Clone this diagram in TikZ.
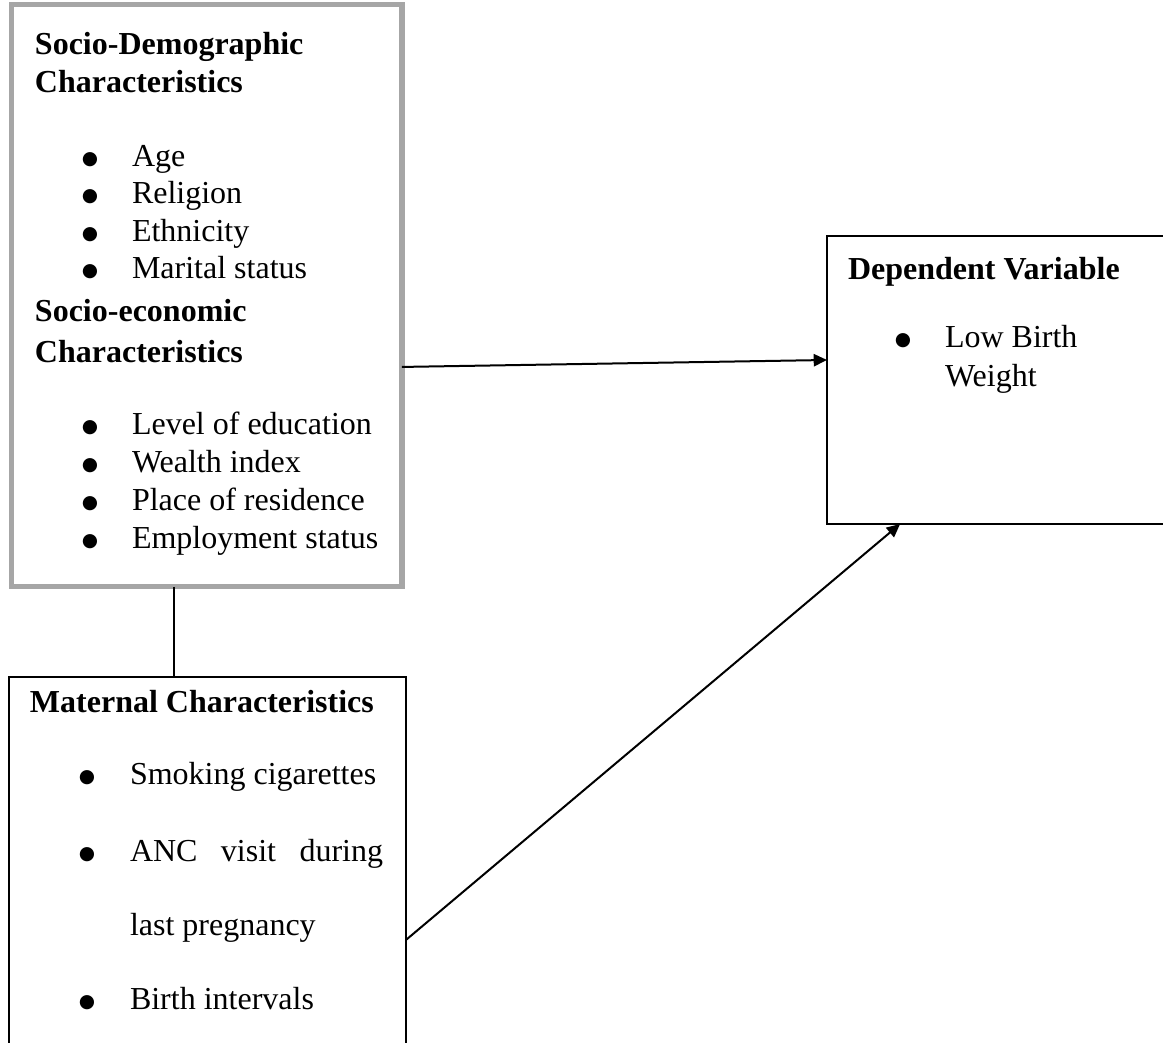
\documentclass[tikz,border=0pt]{standalone}
\usepackage{fontspec}
\setmainfont{Liberation Serif}
\newfontfamily\symfnt{DejaVu Sans}
\usetikzlibrary{arrows.meta}
\begin{document}
\begin{tikzpicture}[x=0.375pt,y=-0.375pt,
  txt/.style={anchor=base west,inner sep=0pt,outer sep=0pt,font=\fontsize{12}{14}\selectfont},
  hd/.style={txt,font=\fontsize{12}{14}\selectfont\bfseries},
  bul/.style={anchor=base,inner sep=0pt,outer sep=0pt,font=\fontsize{7}{8}\symfnt},
  frame/.style={draw,rectangle,inner sep=0pt,outer sep=0pt},
  conn/.style={line width=0.75pt,black},
  arr/.style={conn,-{Triangle[length=5pt,width=4.6pt]}}]
\newcommand{\bdot}{\raisebox{0.9pt}{●}}
\useasboundingbox (0,0) rectangle (1163,1043);
\clip (0,0) rectangle (1163,1043);
% boxes
\node[frame,draw=gray!70,line width=1.9pt,minimum width=146.6pt,minimum height=218.4pt] (b1) at (206.5,295.75) {};
\node[frame,line width=0.75pt,minimum width=148.9pt,minimum height=162.4pt] (b2) at (207.5,893.5) {};
\node[frame,line width=0.75pt,minimum width=143.6pt,minimum height=108pt] (b3) at (1018.5,380) {};
% box 1 text
\node[hd] (t1) at (35,55) {Socio-Demographic};
\node[hd] (t2) at (35,93) {Characteristics};
\node[bul] (u1) at (90,167) {\bdot};
\node[txt] (i1) at (132,167) {Age};
\node[bul] (u2) at (90,204) {\bdot};
\node[txt] (i2) at (132,204) {Religion};
\node[bul] (u3) at (90,242) {\bdot};
\node[txt] (i3) at (132,242) {Ethnicity};
\node[bul] (u4) at (90,279) {\bdot};
\node[txt] (i4) at (132,279) {Marital status};
\node[hd] (t3) at (35,322) {Socio-economic};
\node[hd] (t4) at (35,363) {Characteristics};
\node[bul] (u5) at (90,435) {\bdot};
\node[txt] (i5) at (132,435) {Level of education};
\node[bul] (u6) at (90,473) {\bdot};
\node[txt] (i6) at (132,473) {Wealth index};
\node[bul] (u7) at (90,511) {\bdot};
\node[txt] (i7) at (132,511) {Place of residence};
\node[bul] (u8) at (90,549) {\bdot};
\node[txt] (i8) at (132,549) {Employment status};
% box 2 text
\node[hd] (t5) at (30,713) {Maternal Characteristics};
\node[bul] (u9) at (87,785) {\bdot};
\node[txt] (i9) at (130,785) {Smoking cigarettes};
\node[bul] (u10) at (87,862) {\bdot};
\node[txt] (i10) at (130,862) {\hbox to 94.9pt{ANC\hfill visit\hfill during}};
\node[txt] (i11) at (130,936) {last pregnancy};
\node[bul] (u12) at (87,1010) {\bdot};
\node[txt] (i12) at (130,1010) {Birth intervals};
% box 3 text
\node[hd] (t6) at (848,280) {Dependent Variable};
\node[bul] (u13) at (903,348) {\bdot};
\node[txt] (i13) at (945,348) {Low Birth};
\node[txt] (i14) at (945,387) {Weight};
% connectors
\draw[conn] ([xshift=-12.2pt]b1.south) -- ([xshift=-12.2pt]b1.south |- b2.north);
\draw[arr] ([yshift=-26.7pt]b1.east) -- ([yshift=7.5pt]b3.west);
\draw[arr] ([yshift=-17.4pt]b2.east) -- ([xshift=-44.4pt]b3.south);
\end{tikzpicture}
\end{document}
